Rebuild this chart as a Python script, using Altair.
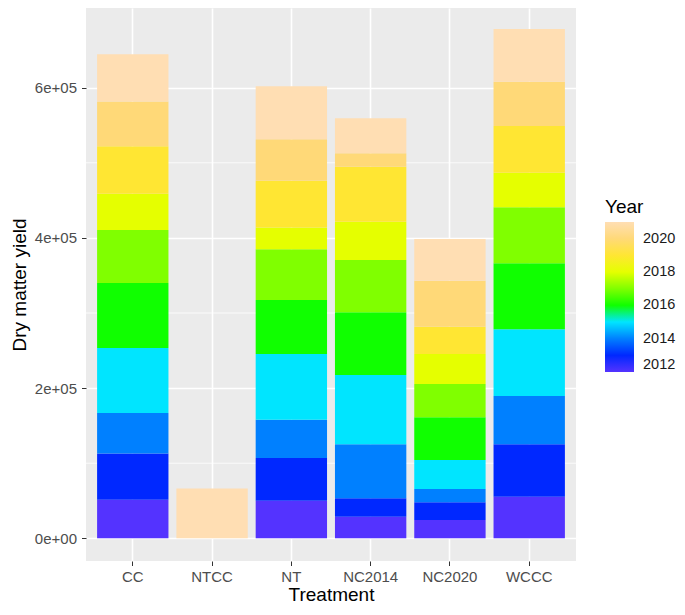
import altair as alt
import pandas as pd

treatments = ["CC", "NTCC", "NT", "NC2014", "NC2020", "WCCC"]
years = [2012, 2013, 2014, 2015, 2016, 2017, 2018, 2019, 2020, 2021]

# per-year dry matter yield (stack segments)
cc = [51400, 61400, 54100, 86600, 86600, 70400, 48300, 63100, 59600, 63100]
ntcc = {2021: 66300}
nt = [50000, 57000, 51000, 87400, 72000, 67600, 29000, 62000, 55500, 70300]
nc2014 = [28800, 24500, 71800, 92400, 83400, 69700, 51000, 73200, 17800, 46600]
nc2020 = [24400, 23500, 17800, 38600, 56800, 44400, 39900, 36400, 61300, 55400]
wccc = [55500, 69700, 64300, 88800, 87800, 74600, 46100, 62200, 59000, 70200]

year_colors = ["#5433FF", "#0028FF", "#0080FF", "#00E5FF", "#10FF00",
               "#80FF00", "#E5FF00", "#FFE633", "#FFD978", "#FFDEB3"]

y_ticks = [0, 200000, 400000, 600000]
y_minor = [100000, 300000, 500000]

rows = []
for t, vals in [("CC", cc), ("NT", nt), ("NC2014", nc2014), ("NC2020", nc2020), ("WCCC", wccc)]:
    for yr, v in zip(years, vals):
        rows.append({"Treatment": t, "Year": yr, "Yield": v})
for yr, v in ntcc.items():
    rows.append({"Treatment": "NTCC", "Year": yr, "Yield": v})
df = pd.DataFrame(rows)

minor_df = pd.DataFrame({"v": y_minor})

yscale = alt.Scale(domain=[-30200, 706100], nice=False, zero=False)
yaxis = alt.Axis(title="Dry matter yield", values=y_ticks,
                 labelExpr="datum.value == 0 ? '0e+00' : format(datum.value/100000, 'd') + 'e+05'",
                 titlePadding=5, labelPadding=5)

minor = alt.Chart(minor_df).mark_rule(color="white", strokeWidth=0.8).encode(
    y=alt.Y("v:Q", scale=yscale, axis=yaxis, title="Dry matter yield")
)

bars = alt.Chart(df).mark_bar().encode(
    x=alt.X("Treatment:N", sort=treatments,
            scale=alt.Scale(paddingInner=0.1, paddingOuter=0.14),
            axis=alt.Axis(title="Treatment", labelAngle=0, bandPosition=0.5,
                          titlePadding=1, labelPadding=4)),
    y=alt.Y("Yield:Q", stack="zero", scale=yscale, axis=yaxis, title="Dry matter yield"),
    color=alt.Color("Year:Q",
                    scale=alt.Scale(domain=[2012, 2021], range=year_colors, interpolate="rgb"),
                    legend=alt.Legend(title="Year", values=[2012, 2014, 2016, 2018, 2020],
                                      orient="none", legendX=519, legendY=190,
                                      gradientLength=150, gradientThickness=29,
                                      labelOffset=9, titlePadding=5,
                                      gradientStrokeWidth=0, format="d")),
    order=alt.Order("Year:Q", sort="ascending"),
)

chart = alt.layer(minor, bars).properties(
    width=490, height=553,
    padding={"left": 78, "top": 0, "right": 101, "bottom": 46},
    autosize=alt.AutoSizeParams(type="none"),
).configure_view(
    fill="#EBEBEB", stroke=None
).configure_axis(
    grid=True, gridColor="white", gridWidth=1.6,
    domain=False, tickColor="#333333", tickSize=4.5, tickWidth=1,
    labelFont="Liberation Sans", labelFontSize=15, labelColor="#4D4D4D",
    titleFont="Liberation Sans", titleFontSize=19, titleFontWeight="normal", titleColor="black",
).configure_legend(
    titleFont="Liberation Sans", titleFontSize=19, titleFontWeight="normal", titleColor="black",
    labelFont="Liberation Sans", labelFontSize=14.5, labelColor="#1A1A1A",
)

chart.save("out.html", embed_options={"renderer": "svg", "actions": False})
